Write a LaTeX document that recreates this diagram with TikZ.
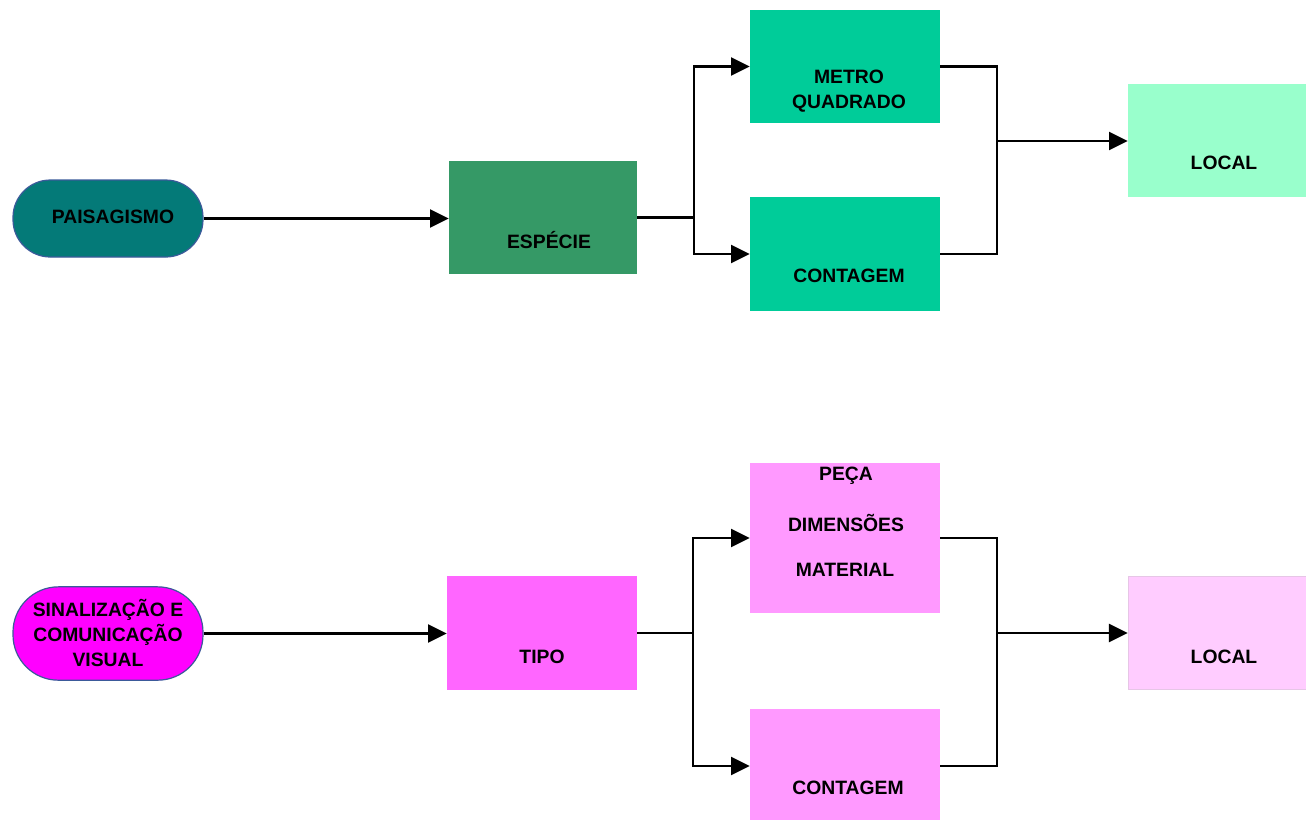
\documentclass[tikz,border=0pt]{standalone}
\usepackage{fontspec}
\setmainfont{Liberation Sans}
\usetikzlibrary{arrows.meta}
\definecolor{tealfill}{HTML}{047A78}
\definecolor{pillborder}{HTML}{3B5A9A}
\definecolor{especie}{HTML}{359966}
\definecolor{mint}{HTML}{00CC99}
\definecolor{palemint}{HTML}{99FFCC}
\definecolor{magenta}{HTML}{FF00FF}
\definecolor{tipo}{HTML}{FF66FF}
\definecolor{pinkbox}{HTML}{FF99FF}
\definecolor{palepink}{HTML}{FFCCFF}
\definecolor{palepinkedge}{HTML}{E6C6E6}
\begin{document}
\begin{tikzpicture}[x=0.75pt,y=-0.75pt,
  lbl/.style={font=\bfseries\fontsize{14.5pt}{18.75pt}\selectfont, text=black, align=center, inner sep=0pt},
  pill/.style={draw=pillborder, line width=0.9pt, rounded corners=28pt, minimum width=142.5pt, inner sep=0pt},
  box/.style={minimum width=142.5pt, minimum height=85pt, inner sep=0pt},
  link/.style={line width=1.7pt, black},
  arr/.style={link, -{Triangle[length=14pt,width=13.5pt]}}
]
\useasboundingbox (0,0) rectangle (1306,819);

% ---------- upper chain: landscaping ----------
\node[pill, fill=tealfill, minimum height=57.75pt] (pais) at (108,218.5) {};
\node[lbl] (paisT) at (113,217) {PAISAGISMO};

\node[box, fill=especie, minimum width=141pt] (esp) at (543,217.5) {};
\node[lbl] (espT) at (549,240) {ESPÉCIE};

\node[box, fill=mint] (metro) at (845,66.5) {};
\node[lbl, align=center] (metroT) at (849,91) {METRO\\QUADRADO};

\node[box, fill=mint] (cont1) at (845,254) {};
\node[lbl] (cont1T) at (849,276) {CONTAGEM};

\node[box, fill=palemint, minimum width=133.5pt] (loc1) at (1217,140.5) {};
\node[lbl] (loc1T) at (1224,163) {LOCAL};

\coordinate (f1) at (694,217.5);
\coordinate (g1) at (997,141);

\draw[arr] (pais.east) -- (esp.west |- pais.east);
\draw[link] (esp.east |- f1) -- (f1);
\draw[arr] (f1) |- (metro.west);
\draw[arr] (f1) |- (cont1.west);
\draw[link] (metro.east) -| (g1);
\draw[link] (cont1.east) -| (g1);
\draw[arr] (g1) -- (loc1.west |- g1);

% ---------- lower chain: signage ----------
\node[pill, fill=magenta, minimum height=70pt, rounded corners=34pt] (sinal) at (108,633.5) {};
\node[lbl, align=center] (sinalT) at (108,633) {SINALIZAÇÃO E\\COMUNICAÇÃO\\VISUAL};

\node[box, fill=tipo] (tipo) at (542,633) {};
\node[lbl] (tipoT) at (542,657) {TIPO};

\node[box, fill=pinkbox, minimum height=112.5pt] (peca) at (845,538) {};
\node[lbl] (pecaA) at (846,476) {PEÇA};
\node[lbl] (pecaB) at (846,523) {DIMENSÕES};
\node[lbl] (pecaC) at (845,570) {MATERIAL};

\node[box, fill=pinkbox] (cont2) at (845,766) {};
\node[lbl] (cont2T) at (848,788) {CONTAGEM};

\node[box, fill=palepink, draw=palepinkedge, line width=0.6pt, minimum width=133.5pt] (loc2) at (1217,633) {};
\node[lbl] (loc2T) at (1224,657) {LOCAL};

\coordinate (f2) at (693,633);
\coordinate (g2) at (997,633);

\draw[arr] (sinal.east) -- (tipo.west |- sinal.east);
\draw[link] (tipo.east) -- (f2);
\draw[arr] (f2) |- (peca.west);
\draw[arr] (f2) |- (cont2.west);
\draw[link] (peca.east) -| (g2);
\draw[link] (cont2.east) -| (g2);
\draw[arr] (g2) -- (loc2.west);
\end{tikzpicture}
\end{document}
